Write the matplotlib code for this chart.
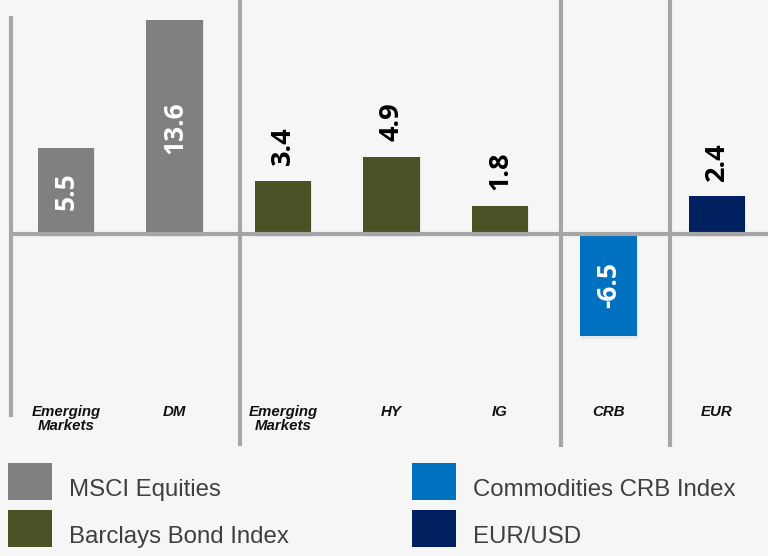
import matplotlib.pyplot as plt
from matplotlib.patches import Rectangle
import matplotlib.transforms as mtransforms

# data
categories = ["Emerging\nMarkets", "DM", "Emerging\nMarkets", "HY", "IG", "CRB", "EUR"]
values = [5.5, 13.6, 3.4, 4.9, 1.8, -6.5, 2.4]
groups = ["MSCI Equities", "MSCI Equities", "Barclays Bond Index", "Barclays Bond Index",
          "Barclays Bond Index", "Commodities CRB Index", "EUR/USD"]
label_inside = [True, True, False, False, False, True, False]

colors = {
    "MSCI Equities": "#808080",
    "Barclays Bond Index": "#4B5326",
    "Commodities CRB Index": "#0070C0",
    "EUR/USD": "#002060",
}
legend_order = ["MSCI Equities", "Barclays Bond Index", "Commodities CRB Index", "EUR/USD"]

# group separators (category units) and their vertical extents in pixels from top
separators = [(-0.505, 16, 417), (1.6, 0, 446), (4.56, 0, 447), (5.57, 0, 447)]

W, H = 768, 556
fig = plt.figure(figsize=(W / 100, H / 100), dpi=100, facecolor="#F6F6F6")
ax = fig.add_axes([0, 0, 1, 1])
ax.set_facecolor("#F6F6F6")

px_per_cat = 108.5
x0_px = 66
base_px = 234
px_per_unit = 15.7
ax.set_xlim(-x0_px / px_per_cat, (W - x0_px) / px_per_cat)
ax.set_ylim(-(H - base_px) / px_per_unit, base_px / px_per_unit)
ax.axis("off")

def ypx(p):
    # pixel-from-top to axes fraction
    return 1 - p / H

xs = list(range(len(values)))
bar_colors = [colors[g] for g in groups]
bars = ax.bar(xs, values, width=0.52, color=bar_colors, zorder=3)

# subtle shadow under the bars
for b in bars:
    h = b.get_height()
    sh = Rectangle((b.get_x() + 0.01, b.get_y() - 0.2 if h > 0 else b.get_y()),
                   b.get_width(), h + (0.2 if h > 0 else -0.2),
                   color="#000000", alpha=0.06, zorder=2, lw=0)
    ax.add_patch(sh)

# baseline
blend = mtransforms.blended_transform_factory(ax.transAxes, ax.transData)
ax.plot([12 / W, 1], [0, 0], transform=blend, color="#A6A6A6", lw=3, zorder=4,
        solid_capstyle="butt")

# separators
blend_x = mtransforms.blended_transform_factory(ax.transData, ax.transAxes)
for xs_, top, bot in separators:
    ax.plot([xs_, xs_], [ypx(top), ypx(bot)], transform=blend_x, color="#A6A6A6",
            lw=3, zorder=1, solid_capstyle="butt")

# value labels
for x, v, inside in zip(xs, values, label_inside):
    txt = f"{v:.1f}"
    if inside:
        ax.text(x, v / 2, txt, rotation=90, ha="center", va="center", color="white",
                fontsize=19, fontweight="bold", family="Open Sans", zorder=5)
    else:
        ax.text(x, v + 1.0, txt, rotation=90, ha="center", va="bottom", color="black",
                fontsize=19.5, fontweight="bold", family="Open Sans", zorder=5)

# category labels
for x, c in zip(xs, categories):
    ax.text(x, ypx(405), c, transform=blend_x, ha="center", va="top", fontsize=10.8,
            fontweight="bold", style="italic", family="Liberation Sans", linespacing=1.0,
            color="#111111")

# legend
legend_pos = [(8, 463), (8, 510), (412, 463), (412, 510)]
for name, (lx, ly) in zip(legend_order, legend_pos):
    fig.add_artist(Rectangle((lx / W, 1 - (ly + 37) / H), 44 / W, 37 / H,
                             transform=fig.transFigure, color=colors[name], lw=0))
    fig.text((lx + 61) / W, 1 - (ly + 27) / H, name, ha="left", va="center",
             fontsize=17.3, family="Liberation Sans", color="#3F3F3F")

fig.savefig("out.png", dpi=100, facecolor=fig.get_facecolor())
